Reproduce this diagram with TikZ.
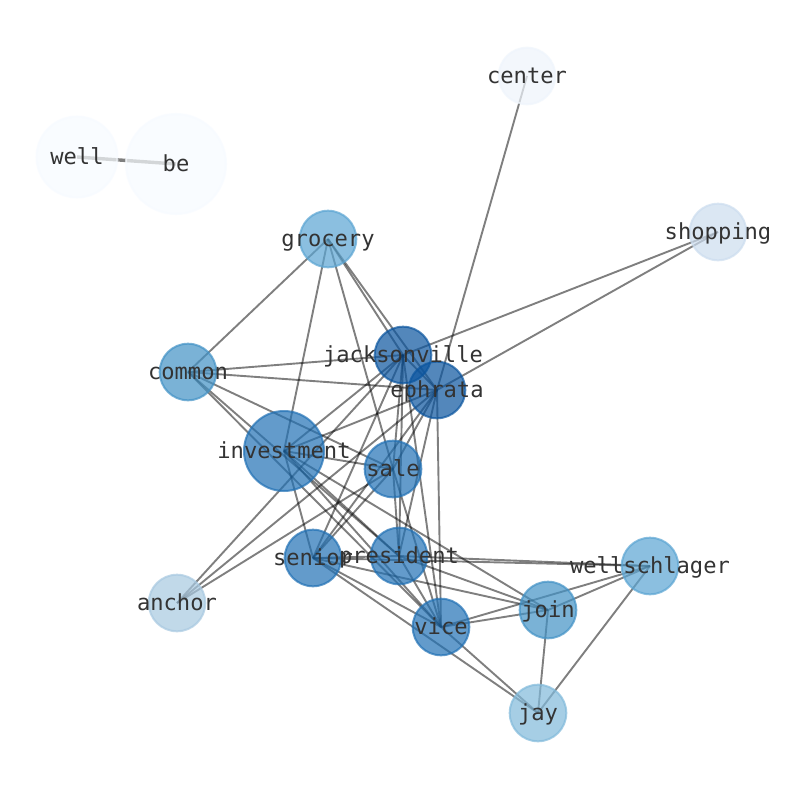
\documentclass[tikz,border=0pt]{standalone}
\usepackage{fontspec}
\newfontfamily\labfont{DejaVu Sans Mono}
\usetikzlibrary{backgrounds}
\definecolor{cD}{HTML}{0B559F}
\definecolor{cM}{HTML}{2171B5}
\definecolor{cC}{HTML}{4292C6}
\definecolor{cG}{HTML}{5BA5D3}
\definecolor{cJ}{HTML}{81BADB}
\definecolor{cA}{HTML}{A8C9E1}
\definecolor{cS}{HTML}{CCDDEF}
\definecolor{cT}{HTML}{EFF5FC}
\definecolor{cW}{HTML}{F7FBFF}
\definecolor{labgray}{HTML}{333333}
\tikzset{
  vtx/.style={circle, inner sep=0pt, minimum size=56.6bp, line width=2bp,
    fill=#1, draw=#1, fill opacity=0.7, draw opacity=0.7},
  lab/.style={font=\labfont\fontsize{22.2}{26}\selectfont, text=labgray,
    inner sep=0pt, text height=16.9bp, text depth=5.3bp, yshift=-2bp},
  link/.style={draw=black, draw opacity=0.5, line width=1.9bp},
}
\begin{document}
\begin{tikzpicture}[x=1bp,y=-1bp]
\useasboundingbox (0,0) rectangle (794,790);
% vertices
\node[vtx=cW, minimum size=81bp] (well) at (77,157) {};
\node[vtx=cW, minimum size=100bp] (be) at (176,164) {};
\node[vtx=cT] (center) at (527,76) {};
\node[vtx=cS] (shopping) at (718,232) {};
\node[vtx=cG] (grocery) at (328,239) {};
\node[vtx=cD] (jacksonville) at (403,355) {};
\node[vtx=cD] (ephrata) at (437,390) {};
\node[vtx=cC] (common) at (188,372) {};
\node[vtx=cM, minimum size=80bp] (investment) at (284,451) {};
\node[vtx=cM] (sale) at (393,469) {};
\node[vtx=cM] (senior) at (313,558) {};
\node[vtx=cM] (president) at (399,556) {};
\node[vtx=cA] (anchor) at (177,603) {};
\node[vtx=cM] (vice) at (441,627) {};
\node[vtx=cC] (join) at (548,610) {};
\node[vtx=cG] (wellschlager) at (650,566) {};
\node[vtx=cJ] (jay) at (538,713) {};
% edges under vertices
\begin{scope}[on background layer]
\fill[white] (0,0) rectangle (794,790);
\draw[link, line width=3.4bp] (well.center) -- (be.center);
\foreach \a/\b in {center/ephrata, shopping/jacksonville, shopping/ephrata,
  anchor/jacksonville, anchor/ephrata, anchor/sale,
  grocery/common, grocery/investment, grocery/sale, grocery/jacksonville, grocery/ephrata,
  common/jacksonville, common/ephrata, common/sale, common/president, common/vice,
  investment/jacksonville, investment/ephrata, investment/sale, investment/senior,
  investment/president, investment/vice, investment/join,
  sale/jacksonville, sale/ephrata, sale/senior, sale/president, sale/vice,
  senior/jacksonville, senior/ephrata, senior/president, senior/wellschlager,
  senior/vice, senior/join, senior/jay,
  president/jacksonville, president/ephrata, president/wellschlager,
  president/vice, president/join,
  vice/jacksonville, vice/ephrata, vice/join, vice/wellschlager, vice/jay,
  join/wellschlager, join/jay, wellschlager/jay, jacksonville/ephrata}
  \draw[link] (\a.center) -- (\b.center);
\end{scope}
% labels on top
\foreach \n in {well, be, center, shopping, grocery, jacksonville, ephrata, common,
  investment, sale, senior, president, anchor, vice, join, wellschlager, jay}
  \node[lab] (\n-l) at (\n.center) {\n};
\end{tikzpicture}
\end{document}
